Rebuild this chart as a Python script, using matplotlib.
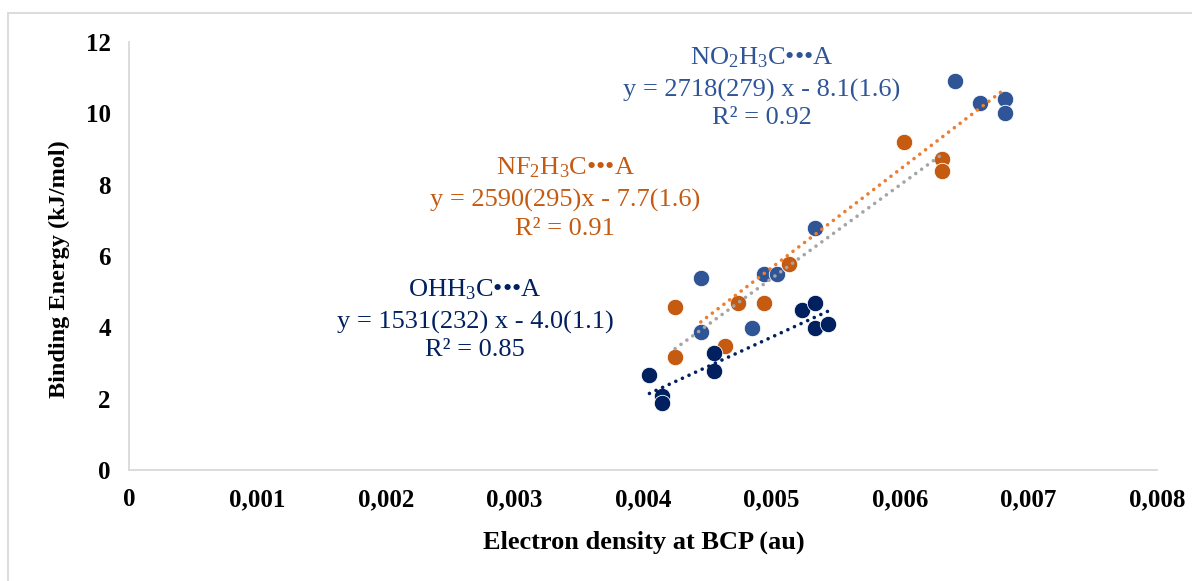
import numpy as np
import matplotlib
matplotlib.use("Agg")
import matplotlib.pyplot as plt
from matplotlib.lines import Line2D

plt.rcParams['font.family'] = ['Liberation Serif', 'DejaVu Serif']
plt.rcParams['mathtext.fontset'] = 'custom'
plt.rcParams['mathtext.rm'] = 'Liberation Serif'
plt.rcParams['mathtext.it'] = 'Liberation Serif:italic'
plt.rcParams['mathtext.bf'] = 'Liberation Serif:bold'

# data
no2_x = [0.00445, 0.00445, 0.00485, 0.00494, 0.00504, 0.00534, 0.00643, 0.00662, 0.00682, 0.00682]
no2_y = [5.38, 3.88, 3.97, 5.49, 5.49, 6.79, 10.90, 10.30, 10.39, 10.00]
nf2_x = [0.00425, 0.00425, 0.00464, 0.00474, 0.00494, 0.00514, 0.00603, 0.00633, 0.00633]
nf2_y = [4.57, 3.17, 3.47, 4.69, 4.69, 5.78, 9.20, 8.71, 8.37]
ohh_x = [0.00405, 0.00415, 0.00415, 0.00455, 0.00455, 0.00524, 0.00534, 0.00534, 0.00544]
ohh_y = [2.66, 2.07, 1.87, 3.27, 2.78, 4.48, 4.69, 3.97, 4.08]

x_ticks = [0, 0.001, 0.002, 0.003, 0.004, 0.005, 0.006, 0.007, 0.008]
x_labels = ['0', '0,001', '0,002', '0,003', '0,004', '0,005', '0,006', '0,007', '0,008']
y_ticks = [0, 2, 4, 6, 8, 10, 12]

# (x, y, marker colour, trendline colour)
series = [
    (no2_x, no2_y, '#2F5597', '#ED7D31'),
    (nf2_x, nf2_y, '#C55A11', '#A5A5A5'),
    (ohh_x, ohh_y, '#002060', '#002060'),
]

W, H = 1192, 581
fig = plt.figure(figsize=(W / 100, H / 100), dpi=100)
ax = fig.add_axes([129 / W, 111 / H, 1028 / W, 428 / H])

for xs, ys, mc, lc in series:
    ax.scatter(xs, ys, s=140, color=mc, edgecolors='white', linewidths=0.6, zorder=3)

# linear trendlines over each series' x range
for xs, ys, mc, lc in series:
    xs = np.array(xs)
    ys = np.array(ys)
    k, b = np.polyfit(xs, ys, 1)
    xx = np.array([xs.min(), xs.max()])
    ax.plot(xx, k * xx + b, color=lc, lw=2.6, linestyle=(0, (0.01, 2.0)),
            dash_capstyle='round', zorder=4)

ax.set_xlim(0, 0.008)
ax.set_ylim(0, 12)
ax.set_xticks(x_ticks)
ax.set_xticklabels(x_labels)
ax.set_yticks(y_ticks)
ax.tick_params(length=0, labelsize=18)
ax.tick_params(axis='x', pad=13)
ax.tick_params(axis='y', pad=13)
for lab in ax.get_xticklabels() + ax.get_yticklabels():
    lab.set_fontweight('bold')

for s in ['top', 'right']:
    ax.spines[s].set_visible(False)
for s in ['left', 'bottom']:
    ax.spines[s].set_color('#D9D9D9')
    ax.spines[s].set_linewidth(1.3)

ax.set_xlabel('Electron density at BCP (au)', fontsize=19, fontweight='bold')
ax.set_ylabel('Binding Energy (kJ/mol)', fontsize=17.5, fontweight='bold')
ax.xaxis.set_label_coords(644 / W, 50 / H, transform=fig.transFigure)
ax.yaxis.set_label_coords(70 / W, 1 - 269 / H, transform=fig.transFigure)

# equation labels
def block(cx, ys, lines, color):
    for yy, t in zip(ys, lines):
        fig.text(cx / W, 1 - yy / H, t, color=color, fontsize=19, ha='center', va='center')

block(762, [58, 90, 118],
      [r'NO$_\mathregular{2}$H$_\mathregular{3}$C•••A', 'y = 2718(279) x - 8.1(1.6)', 'R² = 0.92'],
      '#2F5597')
block(565, [168, 200, 229],
      [r'NF$_\mathregular{2}$H$_\mathregular{3}$C•••A', 'y = 2590(295)x - 7.7(1.6)', 'R² = 0.91'],
      '#C55A11')
block(475, [290, 322, 350],
      [r'OHH$_\mathregular{3}$C•••A', 'y = 1531(232) x - 4.0(1.1)', 'R² = 0.85'],
      '#002060')

# chart frame (only top and left edges visible)
fig.add_artist(Line2D([8 / W, 1], [1 - 13 / H, 1 - 13 / H], color='#D9D9D9', lw=1.3,
                      transform=fig.transFigure))
fig.add_artist(Line2D([8 / W, 8 / W], [0, 1 - 13 / H], color='#D9D9D9', lw=1.3,
                      transform=fig.transFigure))

fig.savefig('out.png', dpi=100)
